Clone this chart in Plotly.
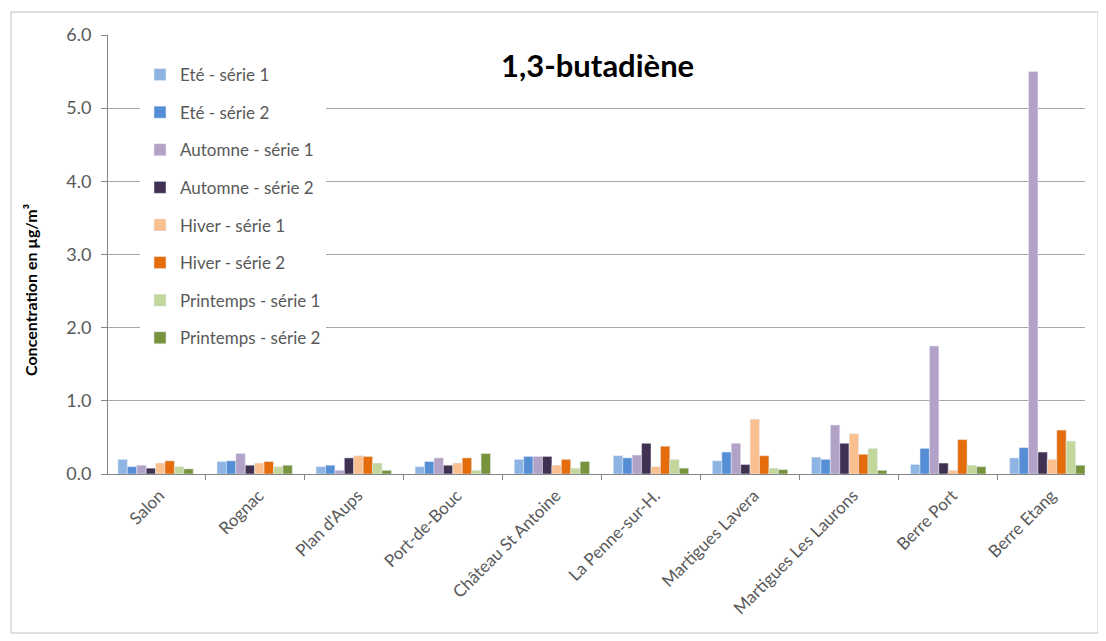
import plotly.graph_objects as go

categories = ["Salon", "Rognac", "Plan d'Aups", "Port-de-Bouc", "Château St Antoine",
              "La Penne-sur-H.", "Martigues Lavera", "Martigues Les Laurons", "Berre Port", "Berre Etang"]

series_names = ["Eté - série 1", "Eté - série 2", "Automne - série 1", "Automne - série 2",
                "Hiver - série 1", "Hiver - série 2", "Printemps - série 1", "Printemps - série 2"]

ete_1 = [0.20, 0.17, 0.10, 0.10, 0.20, 0.25, 0.18, 0.23, 0.13, 0.22]
ete_2 = [0.10, 0.18, 0.12, 0.17, 0.24, 0.22, 0.30, 0.20, 0.35, 0.36]
automne_1 = [0.12, 0.28, 0.05, 0.22, 0.24, 0.26, 0.42, 0.67, 1.75, 5.50]
automne_2 = [0.08, 0.12, 0.22, 0.12, 0.24, 0.42, 0.13, 0.42, 0.15, 0.30]
hiver_1 = [0.15, 0.15, 0.25, 0.15, 0.12, 0.10, 0.75, 0.55, 0.05, 0.20]
hiver_2 = [0.18, 0.17, 0.24, 0.22, 0.20, 0.38, 0.25, 0.27, 0.47, 0.60]
printemps_1 = [0.10, 0.10, 0.15, 0.05, 0.08, 0.20, 0.08, 0.35, 0.12, 0.45]
printemps_2 = [0.07, 0.12, 0.05, 0.28, 0.17, 0.08, 0.06, 0.05, 0.10, 0.12]

series_values = [ete_1, ete_2, automne_1, automne_2, hiver_1, hiver_2, printemps_1, printemps_2]
colors = ["#8DB4E2", "#558ED5", "#B3A2C7", "#403152", "#FAC090", "#E46C0A", "#C3D69B", "#77933C"]

y_ticks = [0, 1, 2, 3, 4, 5, 6]
y_tick_labels = ["0.0", "1.0", "2.0", "3.0", "4.0", "5.0", "6.0"]

fig = go.Figure()
for i, (name, vals) in enumerate(zip(series_names, series_values)):
    fig.add_trace(go.Bar(x=categories, y=vals, name=name, marker_color=colors[i],
                         legendgroup=f"g{i}"))

# page body has an 8px margin: figure coordinates = screen coordinates - 8
W, H = 1098, 633
ml, mr, mt, mb = 100, 21, 27, 167
pw, ph = W - ml - mr, H - mt - mb

def px(x):
    return (x - ml) / pw

def py(y):
    return (H - mb - y) / ph

fig.update_layout(
    width=W, height=H,
    margin=dict(l=ml, r=mr, t=mt, b=mb),
    paper_bgcolor="white", plot_bgcolor="white",
    font=dict(family="Lato", size=16, color="#595959"),
    barmode="group", bargap=0.24, bargroupgap=0,
    legend=dict(x=px(132), y=py(49), xanchor="left", yanchor="top",
                bgcolor="white", font=dict(size=17, color="#595959"),
                tracegroupgap=12.5, itemwidth=30),
    annotations=[
        dict(text="<b>1,3-butadiène</b>", x=px(589), y=py(57), xref="paper", yref="paper",
             xanchor="center", yanchor="middle", showarrow=False,
             font=dict(size=31, color="#000000")),
        dict(text="<b>Concentration en µg/m³</b>", x=px(22), y=py(282), xref="paper", yref="paper",
             xanchor="center", yanchor="middle", textangle=-90, showarrow=False,
             font=dict(size=16, color="#000000")),
    ],
    shapes=[dict(type="rect", xref="paper", yref="paper", x0=px(3), x1=px(1090), y0=py(625), y1=py(4),
                 line=dict(color="#BFBFBF", width=1), fillcolor="rgba(0,0,0,0)", layer="below")],
)
fig.update_xaxes(tickangle=-45, showline=True, linecolor="#868686", ticks="outside",
                 tickson="boundaries", tickcolor="#868686", ticklen=5, range=[-0.48, 9.38],
                 ticklabelstandoff=4, ticklabelshift=4,
                 tickfont=dict(size=17, color="#595959"))
fig.update_yaxes(range=[0, 6], tickvals=y_ticks, ticktext=y_tick_labels, showgrid=True,
                 gridcolor="#A6A6A6", gridwidth=1, showline=True, linecolor="#868686",
                 ticks="outside", tickcolor="#868686", ticklen=6, ticklabelstandoff=6,
                 tickfont=dict(size=18, color="#595959"), zeroline=False)

fig.write_html("out.html")
